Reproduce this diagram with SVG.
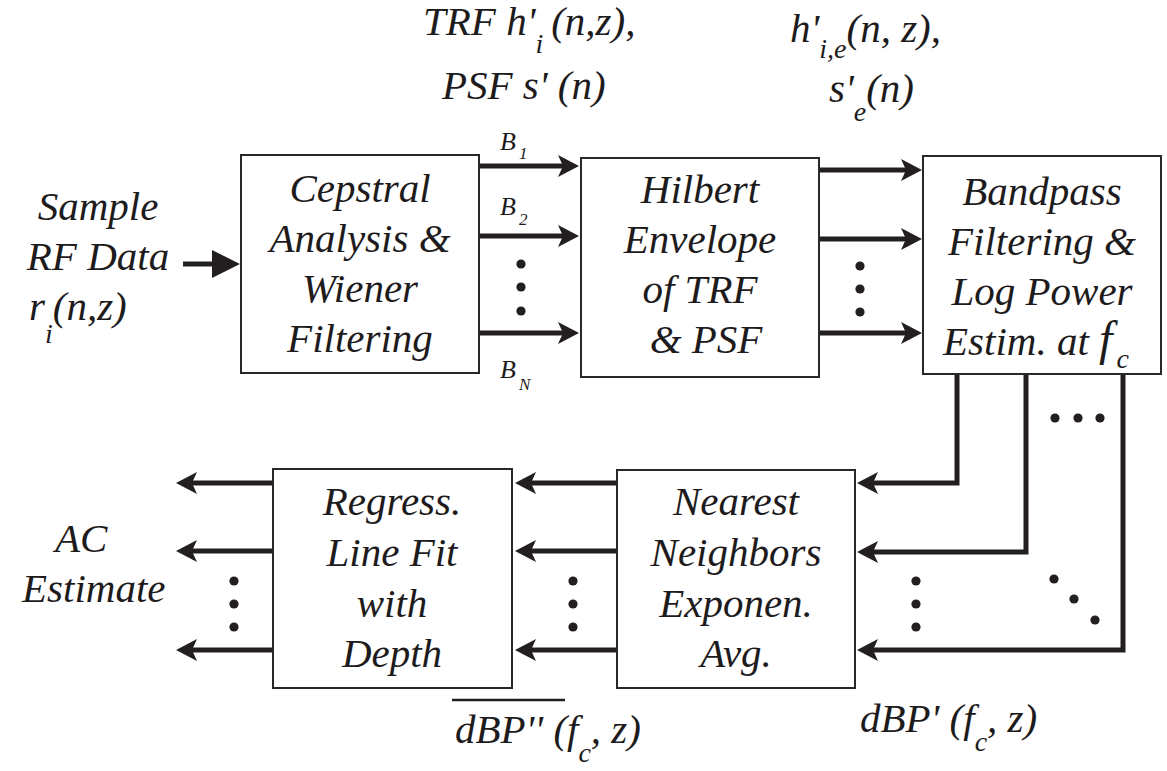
<svg xmlns="http://www.w3.org/2000/svg" width="1167" height="771" viewBox="0 0 1167 771">
<style>
  text { font-family: "Liberation Serif", "Times New Roman", Times, "DejaVu Serif", serif; font-style: italic; fill: #1e1b1c; }
  .t { font-size: 41px; }
  .c { text-anchor: middle; }
  .sub { font-size: 28px; }
  .b { font-size: 26px; }
  .bs { font-size: 17px; }
  .box { fill: #ffffff; stroke: #2a2728; stroke-width: 2; }
  .ln { fill: none; stroke: #231f20; stroke-width: 5; }
  .dot { fill: #231f20; }
</style>
<defs>
  <marker id="arr" viewBox="0 -12 22 24" refX="5" refY="0" markerWidth="22" markerHeight="24" markerUnits="userSpaceOnUse" orient="auto" overflow="visible">
    <path d="M0,-11 L21,0 L0,11 L5,0 Z" fill="#231f20"/>
  </marker>
  <marker id="big" viewBox="0 -14 28 28" refX="0" refY="0" markerWidth="28" markerHeight="28" markerUnits="userSpaceOnUse" orient="auto" overflow="visible">
    <path d="M0,-14 L28,0 L0,14 Z" fill="#231f20"/>
  </marker>
</defs>
<rect width="1167" height="771" fill="#ffffff"/>

<g id="connectors">
  <path class="ln" d="M183,264 H212" stroke-width="7" marker-end="url(#big)"/>
  <path class="ln" d="M479,166 H563" marker-end="url(#arr)"/>
  <path class="ln" d="M479,236 H563" marker-end="url(#arr)"/>
  <path class="ln" d="M479,333 H563" marker-end="url(#arr)"/>
  <path class="ln" d="M819,170 H906" marker-end="url(#arr)"/>
  <path class="ln" d="M819,239 H906" marker-end="url(#arr)"/>
  <path class="ln" d="M819,333 H906" marker-end="url(#arr)"/>
  <path class="ln" d="M957,374 V483 H873" marker-end="url(#arr)"/>
  <path class="ln" d="M1026,374 V552 H873" marker-end="url(#arr)"/>
  <path class="ln" d="M1123,374 V650 H873" marker-end="url(#arr)"/>
  <path class="ln" d="M617,483 H531" marker-end="url(#arr)"/>
  <path class="ln" d="M617,551 H531" marker-end="url(#arr)"/>
  <path class="ln" d="M617,650 H531" marker-end="url(#arr)"/>
  <path class="ln" d="M273,483 H192" marker-end="url(#arr)"/>
  <path class="ln" d="M273,551 H192" marker-end="url(#arr)"/>
  <path class="ln" d="M273,650 H192" marker-end="url(#arr)"/>
  <g id="ellipses">
    <circle class="dot" cx="521" cy="264" r="4.6"/>
    <circle class="dot" cx="521" cy="287" r="4.6"/>
    <circle class="dot" cx="521" cy="311" r="4.6"/>
    <circle class="dot" cx="860" cy="266" r="4.6"/>
    <circle class="dot" cx="860" cy="289" r="4.6"/>
    <circle class="dot" cx="860" cy="312" r="4.6"/>
    <circle class="dot" cx="1055" cy="418" r="4.6"/>
    <circle class="dot" cx="1078" cy="418" r="4.6"/>
    <circle class="dot" cx="1100" cy="418" r="4.6"/>
    <circle class="dot" cx="1054" cy="579" r="4.6"/>
    <circle class="dot" cx="1074" cy="599" r="4.6"/>
    <circle class="dot" cx="1095" cy="620" r="4.6"/>
    <circle class="dot" cx="916" cy="581" r="4.6"/>
    <circle class="dot" cx="916" cy="604" r="4.6"/>
    <circle class="dot" cx="916" cy="627" r="4.6"/>
    <circle class="dot" cx="573" cy="581" r="4.6"/>
    <circle class="dot" cx="573" cy="604" r="4.6"/>
    <circle class="dot" cx="573" cy="627" r="4.6"/>
    <circle class="dot" cx="234" cy="581" r="4.6"/>
    <circle class="dot" cx="234" cy="604" r="4.6"/>
    <circle class="dot" cx="234" cy="627" r="4.6"/>
  </g>
</g>

<g id="input">
  <text class="t c" x="98" y="220">Sample</text>
  <text class="t c" x="98" y="270">RF Data</text>
  <text class="t" x="29" y="320">r<tspan class="sub" dy="23">i</tspan><tspan dy="-23">(n,z)</tspan></text>
</g>

<g id="cepstral">
  <rect class="box" x="241" y="155" width="238" height="218"/>
  <text class="t c" x="360" y="202">Cepstral</text>
  <text class="t c" x="360" y="252">Analysis &amp;</text>
  <text class="t c" x="360" y="302">Wiener</text>
  <text class="t c" x="360" y="352">Filtering</text>
</g>

<g id="band-labels">
  <text class="b" x="500" y="150">B<tspan class="bs" dx="3" dy="9">1</tspan></text>
  <text class="b" x="500" y="215">B<tspan class="bs" dx="3" dy="10">2</tspan></text>
  <text class="b" x="500" y="378">B<tspan class="bs" dx="3" dy="12">N</tspan></text>
</g>

<g id="hilbert">
  <rect class="box" x="581" y="158" width="238" height="219"/>
  <text class="t c" x="700" y="203">Hilbert</text>
  <text class="t c" x="700" y="253">Envelope</text>
  <text class="t c" x="700" y="303">of TRF</text>
  <text class="t c" x="706" y="353">&amp; PSF</text>
</g>

<g id="trf-label">
  <text class="t" x="423" y="35">TRF h'<tspan class="sub" dy="18">i</tspan><tspan dx="8" dy="-18">(n,z),</tspan></text>
  <text class="t" x="442" y="99">PSF s' (n)</text>
</g>

<g id="env-label">
  <text class="t" x="790" y="42">h'<tspan class="sub" dy="16">i,e</tspan><tspan dy="-16">(n, z),</tspan></text>
  <text class="t" x="829" y="102">s'<tspan class="sub" dy="19">e</tspan><tspan dy="-19">(n)</tspan></text>
</g>

<g id="bandpass">
  <rect class="box" x="923" y="156" width="238" height="218"/>
  <text class="t c" x="1042" y="205">Bandpass</text>
  <text class="t c" x="1042" y="255">Filtering &amp;</text>
  <text class="t c" x="1042" y="305">Log Power</text>
  <text class="t" x="943" y="355">Estim. at <tspan font-size="48">f</tspan><tspan class="sub" font-size="32" dx="4" dy="13">c</tspan></text>
</g>

<g id="nearest">
  <rect class="box" x="617" y="470" width="238" height="218"/>
  <text class="t c" x="736" y="515">Nearest</text>
  <text class="t c" x="736" y="566">Neighbors</text>
  <text class="t c" x="736" y="617">Exponen.</text>
  <text class="t c" x="736" y="667">Avg.</text>
</g>

<g id="regress">
  <rect class="box" x="273" y="469" width="239" height="219"/>
  <text class="t c" x="392" y="515">Regress.</text>
  <text class="t c" x="392" y="566">Line Fit</text>
  <text class="t c" x="392" y="617">with</text>
  <text class="t c" x="392" y="667">Depth</text>
</g>

<g id="output">
  <text class="t" x="55" y="552">AC</text>
  <text class="t" x="22" y="602">Estimate</text>
</g>

<g id="dbp2-label">
  <line x1="452" y1="700" x2="565" y2="700" stroke="#231f20" stroke-width="2.5"/>
  <text class="t" x="455" y="743" font-size="42">dBP'' (f<tspan class="sub" font-size="30" dy="19">c</tspan><tspan dy="-19">, z)</tspan></text>
</g>

<g id="dbp1-label">
  <text class="t" x="860" y="732" font-size="42">dBP' (f<tspan class="sub" font-size="30" dy="19">c</tspan><tspan dy="-19">, z)</tspan></text>
</g>
</svg>
